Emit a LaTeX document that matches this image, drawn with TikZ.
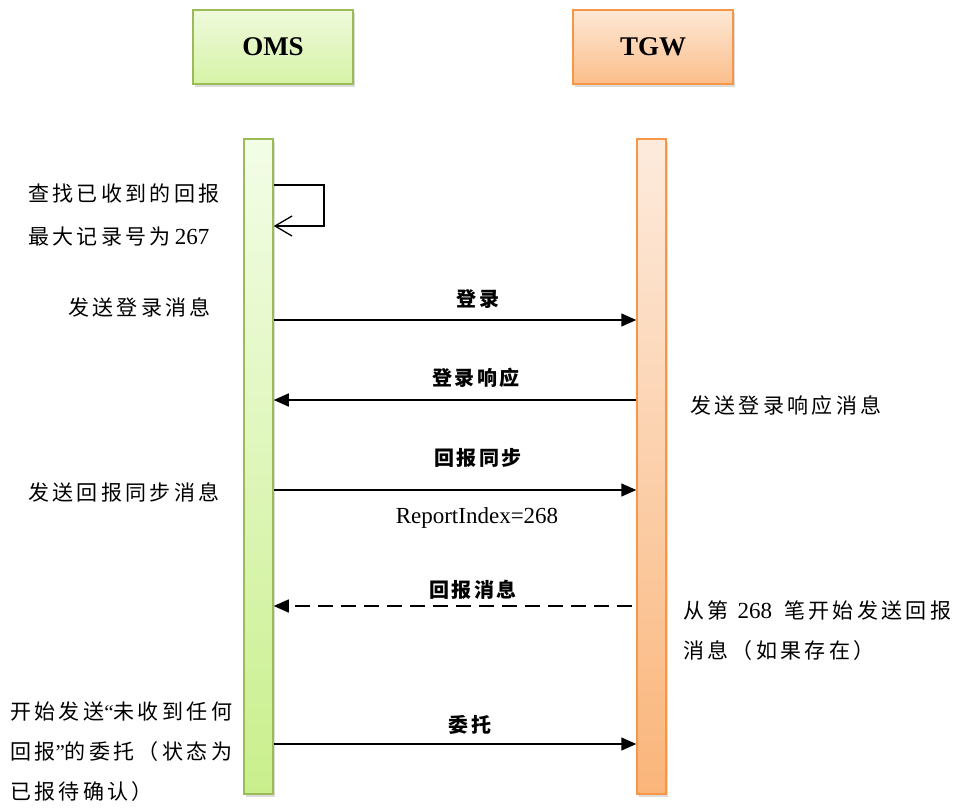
\documentclass[tikz,border=0pt]{standalone}
\usepackage{fontspec}
\setmainfont{Liberation Serif}
\newfontfamily\cjk{Noto Sans CJK SC}[LetterSpace=16]
\newfontfamily\cjkb{Noto Sans CJK SC}[LetterSpace=12]
\usetikzlibrary{arrows.meta,shadows,calc}
\definecolor{omsBorder}{HTML}{9BBB59}
\definecolor{omsTop}{HTML}{EFFADC}
\definecolor{omsBot}{HTML}{D6F3A6}
\definecolor{omsLTop}{HTML}{F3FDE7}
\definecolor{omsLBot}{HTML}{C9EF8C}
\definecolor{tgwBorder}{HTML}{F79646}
\definecolor{tgwTop}{HTML}{FDE8D6}
\definecolor{tgwBot}{HTML}{FBBE8A}
\definecolor{tgwLTop}{HTML}{FDEBDD}
\definecolor{tgwLBot}{HTML}{FAB57A}
\newcommand{\dg}[1]{{\fontsize{23}{24}\selectfont #1}}
\begin{document}
\begin{tikzpicture}[x=1pt,y=-1pt,
  shadowed/.style={drop shadow={shadow xshift=2pt,shadow yshift=-3pt,opacity=0.3,fill=black!45}},
  header/.style={shadowed,draw,line width=1.5pt,minimum width=160pt,minimum height=74pt,inner sep=0pt,
    font=\fontsize{27}{30}\selectfont\bfseries},
  lifeline/.style={shadowed,draw,line width=1.5pt,minimum width=29pt,minimum height=655pt,inner sep=0pt},
  msg/.style={line width=1.5pt,-{Triangle[length=15pt,width=13pt]}},
  dashmsg/.style={msg,dash pattern=on 15pt off 8pt},
  selfloop/.style={line width=1.3pt,-{Straight Barb[length=17pt,width=20pt,line width=1.3pt]}},
  note/.style={anchor=west,inner sep=0pt,font=\fontsize{21}{24}\selectfont\cjk},
  lbl/.style={inner sep=0pt,font=\fontsize{20}{22}\selectfont\bfseries\cjkb},
  rlbl/.style={inner sep=0pt,font=\fontsize{23}{26}\selectfont}
]
\useasboundingbox (0,0) rectangle (961,807);

% headers
\node[header,draw=omsBorder,top color=omsTop,bottom color=omsBot] (omsH) at (273,47) {OMS};
\node[header,draw=tgwBorder,top color=tgwTop,bottom color=tgwBot] (tgwH) at (653,47) {TGW};

% lifelines
\node[lifeline,draw=omsBorder,top color=omsLTop,bottom color=omsLBot] (omsL) at (258.5,466.5) {};
\node[lifeline,draw=tgwBorder,top color=tgwLTop,bottom color=tgwLBot] (tgwL) at (651.5,466.5) {};

% rows
\coordinate (s1) at (0,185);
\coordinate (s2) at (0,226);
\coordinate (m1) at (0,320);
\coordinate (m2) at (0,400);
\coordinate (m3) at (0,490);
\coordinate (m4) at (0,606);
\coordinate (m5) at (0,744);
\coordinate (loopx) at (324,0);
\coordinate (dstart) at (632,0);

% self loop
\draw[selfloop] (omsL.east |- s1) -- (loopx |- s1) -- (loopx |- s2) -- (omsL.east |- s2);

% messages
\draw[msg] (omsL.east |- m1) -- (tgwL.west |- m1);
\draw[msg] (tgwL.west |- m2) -- (omsL.east |- m2);
\draw[msg] (omsL.east |- m3) -- (tgwL.west |- m3);
\draw[dashmsg] (dstart |- m4) -- (omsL.east |- m4);
\draw[msg] (omsL.east |- m5) -- (tgwL.west |- m5);

% message labels
\node[lbl] (l1) at (478,299) {登录};
\node[lbl] (l2) at (476,378) {登录响应};
\node[lbl] (l3) at (478,458) {回报同步};
\node[rlbl] (l3b) at (477,518) {ReportIndex=268};
\node[lbl] (l4) at (473,590) {回报消息};
\node[lbl] (l5) at (470,725) {委托};

% left notes
\node[note] (n1a) at (28,193) {查找已收到的回报};
\node[note] (n1b) at (28,237) {最大记录号为\hspace{4pt}{\rmfamily\dg{267}}};
\node[note] (n2) at (68,307) {发送登录消息};
\node[note] (n3) at (28,492) {发送回报同步消息};
\node[note] (n4a) at (10,712) {开始发送{\rmfamily “}未收到任何};
\node[note] (n4b) at (10,752) {回报{\rmfamily ”}的委托（状态为};
\node[note] (n4c) at (10,792) {已报待确认）};

% right notes
\node[note] (r1) at (690,405) {发送登录响应消息};
\node[note] (r2a) at (683,610) {从第\hspace{9pt}{\rmfamily\dg{268}}\hspace{12pt}笔开始发送回报};
\node[note] (r2b) at (683,651) {消息（如果存在）};
\end{tikzpicture}
\end{document}
